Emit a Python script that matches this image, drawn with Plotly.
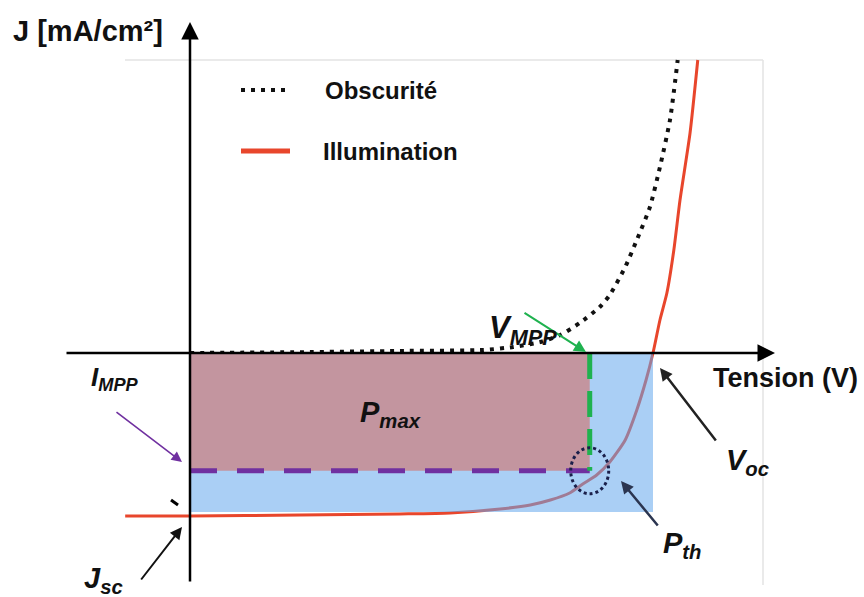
import plotly.graph_objects as go

# ---------------- data (V in volts, J in mA/cm²) ----------------
V_illum = [-0.084, 0.0, 0.1425, 0.272, 0.337, 0.402, 0.441, 0.467, 0.492, 0.509,
           0.527, 0.544, 0.564, 0.579, 0.591, 0.600, 0.609, 0.618, 0.627, 0.635,
           0.648, 0.658]
J_illum = [-20.0, -20.0, -19.88, -19.75, -19.63, -19.14, -18.65, -18.04, -17.18, -16.07,
           -14.97, -13.37, -10.67, -6.99, -3.31, 0.0, 4.05, 7.36, 12.64, 18.77,
           26.99, 35.95]

V_dark = [0.0, 0.1425, 0.272, 0.380, 0.419, 0.454, 0.480, 0.505, 0.531, 0.544,
          0.564, 0.579, 0.596, 0.609, 0.622, 0.632]
J_dark = [0.0, 0.1, 0.25, 0.37, 0.74, 1.35, 2.21, 3.68, 5.64, 7.12,
          10.55, 13.87, 17.91, 22.82, 28.59, 35.95]

V_oc = 0.600
J_sc = -19.5
V_mpp = 0.518
J_mpp = -14.45

legend_names = ["Obscurité", "Illumination"]

# ---------------- page geometry helpers ----------------
W, H = 864, 597
kv = 0.6 / 463.0      # volts per pixel
kj = 20.0 / 163.0     # mA/cm² per pixel
def vx(px):
    return (px - 190) * kv
def jy(py):
    return (353 - py) * kj

FONT = "Liberation Sans, Arial, sans-serif"
RED = "#e8462c"
BLUE = "rgb(100,168,237)"
MAUVE = "#c3959f"
PURPLE = "#7030a0"
GREEN = "#1fb24f"

fig = go.Figure()
fig.add_trace(go.Scatter(x=V_illum, y=J_illum, mode="lines", name=legend_names[1],
                         line=dict(color=RED, width=3, shape="spline", smoothing=0.6),
                         showlegend=False, hoverinfo="skip"))
fig.add_trace(go.Scatter(x=V_dark, y=J_dark, mode="lines", name=legend_names[0],
                         line=dict(color="#111111", width=4, dash="4px,6px",
                                   shape="spline", smoothing=0.6),
                         showlegend=False, hoverinfo="skip"))

shapes = []
# faint frame
shapes.append(dict(type="line", xref="x", yref="y", x0=vx(125), x1=vx(763), y0=jy(60), y1=jy(60),
                   line=dict(color="#e3e3e3", width=1.5), layer="below"))
shapes.append(dict(type="line", xref="x", yref="y", x0=vx(763), x1=vx(763), y0=jy(60), y1=jy(585),
                   line=dict(color="#e3e3e3", width=1.5), layer="below"))
# rectangles
shapes.append(dict(type="rect", xref="x", yref="y", x0=0, x1=V_oc, y0=J_sc, y1=0,
                   fillcolor=BLUE, opacity=0.55, line=dict(width=0), layer="above"))
shapes.append(dict(type="rect", xref="x", yref="y", x0=0, x1=V_mpp, y0=J_mpp, y1=0,
                   fillcolor=MAUVE, opacity=1, line=dict(width=0), layer="above"))
# MPP dashed lines
shapes.append(dict(type="line", xref="x", yref="y", x0=0, x1=V_mpp, y0=J_mpp, y1=J_mpp,
                   line=dict(color=PURPLE, width=5, dash="27px,20px"), layer="above"))
shapes.append(dict(type="line", xref="x", yref="y", x0=V_mpp, x1=V_mpp, y0=0, y1=J_mpp,
                   line=dict(color=GREEN, width=5, dash="26px,12px"), layer="above"))
# dotted circle around MPP
shapes.append(dict(type="circle", xref="x", yref="y",
                   x0=V_mpp - 19 * kv, x1=V_mpp + 19 * kv,
                   y0=J_mpp - 23 * kj, y1=J_mpp + 23 * kj,
                   line=dict(color="#1a1f4a", width=3, dash="dot"), layer="above"))
# small tick near Jsc
shapes.append(dict(type="line", xref="x", yref="y", x0=vx(171), x1=vx(178), y0=jy(500), y1=jy(505),
                   line=dict(color="#000000", width=3), layer="above"))
# legend symbols
shapes.append(dict(type="line", xref="x", yref="y", x0=vx(241), x1=vx(290), y0=jy(90), y1=jy(90),
                   line=dict(color="#111111", width=4, dash="4px,6px"), layer="above"))
shapes.append(dict(type="line", xref="x", yref="y", x0=vx(241), x1=vx(290), y0=jy(151), y1=jy(151),
                   line=dict(color=RED, width=5), layer="above"))

ann = []
def arrow(x0, y0, x1, y1, color, width, size=1.0, head=2):
    ann.append(dict(xref="x", yref="y", axref="x", ayref="y",
                    x=vx(x1), y=jy(y1), ax=vx(x0), ay=jy(y0), text="",
                    showarrow=True, arrowhead=head, arrowsize=size,
                    arrowwidth=width, arrowcolor=color, standoff=0, startstandoff=0))

# axes
arrow(190, 583, 190, 22, "#000000", 2.5, 1.4)
arrow(65, 353, 775, 353, "#000000", 2.5, 1.4)
# pointers
arrow(523, 312, 586, 352, GREEN, 2, 1.2)
arrow(115, 411, 182, 462, PURPLE, 1.6, 1.3)
arrow(140, 581, 182, 527, "#111111", 2, 1.2)
arrow(717, 442, 660, 368, "#222222", 2.5, 1.0)
arrow(659, 527, 621, 481, "#2b3550", 2.5, 1.0)

def label(px, py, text, size, anchor="left"):
    ann.append(dict(xref="x", yref="y", x=vx(px), y=jy(py), text=text,
                    showarrow=False, xanchor=anchor, yanchor="middle",
                    font=dict(family=FONT, size=size, color="#111111")))

label(11, 31, "<b>J [mA/cm²]</b>", 29)
label(711, 378, "<b>Tension (V)</b>", 27)
label(323, 90, "<b>Obscurité</b>", 24)
label(321, 151, "<b>Illumination</b>", 24)
label(358, 414, "<b><i>P</i></b><sub><b><i>max</i></b></sub>", 29)
label(487, 330, "<b><i>V</i></b><sub><b><i>MPP</i></b></sub>", 31)
label(89, 378, "<b><i>I</i></b><sub><b><i>MPP</i></b></sub>", 26)
label(82, 580, "<b><i>J</i></b><sub><b><i>sc</i></b></sub>", 29)
label(724, 462, "<b><i>V</i></b><sub><b><i>oc</i></b></sub>", 29)
label(661, 545, "<b><i>P</i></b><sub><b><i>th</i></b></sub>", 29)

fig.update_layout(
    width=W, height=H, autosize=False,
    margin=dict(l=0, r=0, t=0, b=0),
    paper_bgcolor="white", plot_bgcolor="white",
    xaxis=dict(range=[vx(0), vx(W)], visible=False, fixedrange=True),
    yaxis=dict(range=[jy(H), jy(0)], visible=False, fixedrange=True),
    shapes=shapes, annotations=ann, showlegend=False,
)

fig.write_html("out.html", post_script="document.body.style.margin='0px';",
               config={"displayModeBar": False})
